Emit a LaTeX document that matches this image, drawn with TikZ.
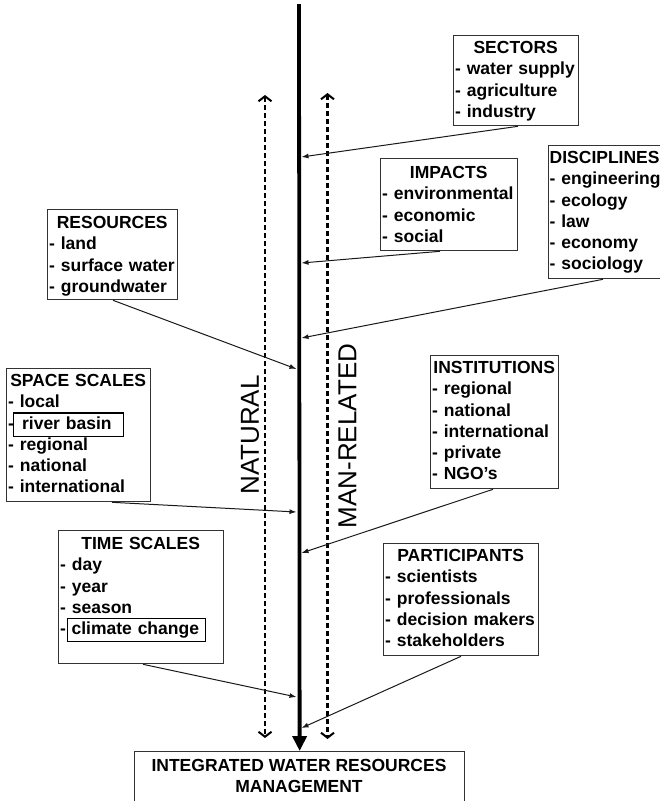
\documentclass[tikz,border=0pt]{standalone}
\usepackage{fontspec}
\setmainfont{Liberation Sans}
\usetikzlibrary{arrows.meta,calc}
\newcommand\hlbox[3]{{\setlength{\fboxsep}{0pt}\setlength{\fboxrule}{1.1pt}\fbox{\kern#1\rule[-6.5pt]{0pt}{22pt}#3\kern#2}}}
\tikzset{
  box/.style={draw=black!80, line width=1.3pt, inner sep=0pt, anchor=north west},
  txt/.style={anchor=north west, inner sep=0pt, align=left,
    font=\bfseries\fontsize{17.5}{21.3}\selectfont},
  conn/.style={draw=black!90, line width=1pt, -{Latex[length=7pt,width=5pt]}},
  dashline/.style={line width=2.5pt, dash pattern=on 5pt off 3pt,
    {Straight Barb[length=5pt,width=13pt,line width=2pt]}-{Straight Barb[length=5pt,width=13pt,line width=2pt]}},
  vlabel/.style={rotate=90, inner sep=0pt, font=\fontsize{26}{30}\selectfont}
}
\begin{document}
\begin{tikzpicture}[x=1pt,y=-1pt]
\useasboundingbox (0,0) rectangle (660,801);
\clip (0,0) rectangle (660,801);
\fill[white] (0,0) rectangle (660,801);

% boxes
\node[box, minimum width=125pt, minimum height=90pt] (sectors) at (453,35) {};
\node[txt, text width=121pt] (sectorsT) at (455,38.3) {\makebox[\linewidth]{\strut SECTORS}\\- water supply\\- agriculture\\- industry};

\node[box, minimum width=137pt, minimum height=92pt] (impacts) at (380,158) {};
\node[txt, text width=133pt] (impactsT) at (382,163.3) {\makebox[\linewidth]{\strut IMPACTS}\\- environmental\\- economic\\- social};

\node[box, minimum width=125pt, minimum height=133pt] (disc) at (548,145) {};
\node[txt, text width=118pt] (discT) at (549.5,148.3) {\strut DISCIPLINES\\- engineering\\- ecology\\- law\\- economy\\- sociology};

\node[box, minimum width=130pt, minimum height=90pt] (resources) at (47,209) {};
\node[txt, text width=126pt] (resourcesT) at (49,213.3) {\makebox[\linewidth]{\strut RESOURCES}\\- land\\- surface water\\- groundwater};

\node[box, minimum width=144pt, minimum height=133pt] (space) at (6,368) {};
\node[txt, text width=140pt] (spaceT) at (8,371.3) {\makebox[\linewidth]{\strut SPACE SCALES}\\- local\\-\kern-1pt\hlbox{8pt}{11pt}{river basin}\\- regional\\- national\\- international};

\node[box, minimum width=128pt, minimum height=133pt] (inst) at (430,355) {};
\node[txt, text width=124pt] (instT) at (432,358.3) {\makebox[\linewidth]{\strut INSTITUTIONS}\\- regional\\- national\\- international\\- private\\- NGO’s};

\node[box, minimum width=165pt, minimum height=133pt] (time) at (58,530) {};
\node[txt, text width=161pt] (timeT) at (60,534.3) {\makebox[\linewidth]{\strut TIME SCALES}\\- day\\- year\\- season\\-\kern0.5pt\hlbox{4pt}{6pt}{climate change}};

\node[box, minimum width=155pt, minimum height=112pt] (part) at (383,543) {};
\node[txt, text width=151pt] (partT) at (385,546.3) {\makebox[\linewidth]{\strut PARTICIPANTS}\\- scientists\\- professionals\\- decision makers\\- stakeholders};

\node[box, minimum width=330pt, minimum height=70pt] (iwrm) at (134,751) {};
\node[txt, anchor=north, align=center] (iwrmT) at (299,756) {\strut INTEGRATED WATER RESOURCES\\MANAGEMENT};

% main line
\coordinate (mtop) at (299,4);
\draw[line width=3.8pt, -{Triangle[length=15pt,width=14pt]}] (mtop) -- (iwrm.north);

% dashed arrows
\coordinate (natTop) at (265,95);
\coordinate (natBot) at (265,738);
\coordinate (manTop) at (327.5,93);
\coordinate (manBot) at (327.5,739);
\draw[dashline] (natTop) -- (natBot);
\draw[dashline] (manTop) -- (manBot);

% rotated labels
\node[vlabel] (natural) at (250,435) {NATURAL};
\node[vlabel] (manrel) at (347.5,436) {MAN-RELATED};

% targets on main line
\coordinate (t1) at (301.5,157);
\coordinate (t2) at (301.5,263);
\coordinate (t3) at (301.5,338);
\coordinate (t4) at (296.5,369);
\coordinate (t5) at (296.5,512);
\coordinate (t6) at (301.5,553);
\coordinate (t7) at (296.5,697);
\coordinate (t8) at (301.5,728);

\draw[conn] ($(sectors.south west)+(65,0)$) -- (t1);
\draw[conn] ($(impacts.south west)+(60,0)$) -- (t2);
\draw[conn] ($(disc.south west)+(55,0)$) -- (t3);
\draw[conn] ($(resources.south west)+(66,0)$) -- (t4);
\draw[conn] ($(space.south west)+(106,0)$) -- (t5);
\draw[conn] ($(inst.south west)+(63,0)$) -- (t6);
\draw[conn] ($(time.south west)+(85,0)$) -- (t7);
\draw[conn] ($(part.south west)+(78,0)$) -- (t8);
\end{tikzpicture}
\end{document}
